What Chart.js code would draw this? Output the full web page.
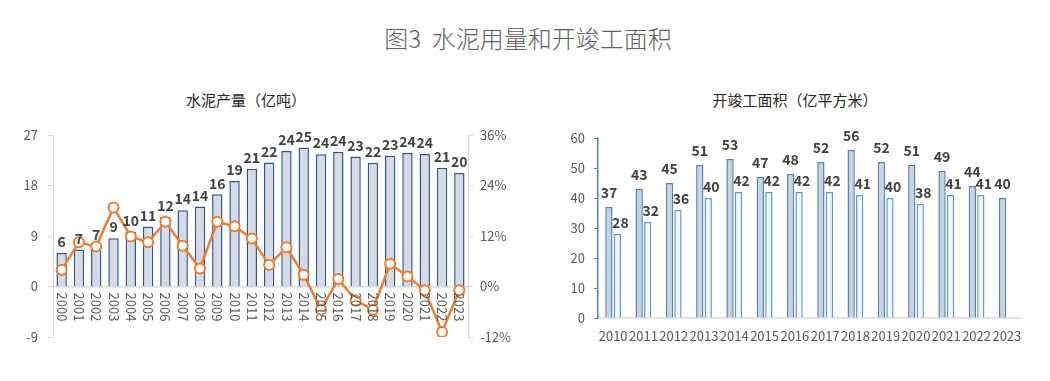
<!DOCTYPE html>
<html>
<head>
<meta charset="utf-8">
<script src="https://cdn.jsdelivr.net/npm/chart.js@4.4.0/dist/chart.umd.min.js"></script>
<style>
  body { margin:0; width:1050px; height:381px; background:#fff; position:relative; overflow:hidden; font-family:"Noto Sans CJK SC","Noto Sans",sans-serif; }
  .t { position:absolute; text-align:center; white-space:nowrap; }
  .box { position:absolute; }
</style>
</head>
<body>
<div class="t" style="top:21px;left:0;width:1056px;font-size:24px;line-height:34px;font-weight:300;color:#606060;">图3&nbsp; 水泥用量和开竣工面积</div>
<div class="t" style="top:89px;left:46px;width:400px;font-size:15px;color:#262626;">水泥产量（亿吨）</div>
<div class="t" style="top:89px;left:595px;width:400px;font-size:15px;color:#262626;">开竣工面积（亿平方米）</div>
<div class="box" style="left:0;top:80px;width:525px;height:290px;"><canvas id="c1" width="525" height="290"></canvas></div>
<div class="box" style="left:525px;top:80px;width:525px;height:290px;"><canvas id="c2" width="525" height="290"></canvas></div>
<script>
// ---- data ----
const cementYears = ['2000','2001','2002','2003','2004','2005','2006','2007','2008','2009','2010','2011','2012','2013','2014','2015','2016','2017','2018','2019','2020','2021','2022','2023'];
const cementOutput = [5.97,6.61,7.25,8.62,9.70,10.69,12.37,13.61,14.24,16.44,18.82,20.99,22.10,24.14,24.76,23.59,24.03,23.16,22.07,23.30,23.77,23.63,21.18,20.23];
const cementGrowth = [4.0,10.5,9.5,18.8,11.9,10.5,15.4,9.7,4.3,15.4,14.3,11.4,5.1,9.3,2.8,-5.5,1.8,-3.3,-5.5,5.4,2.4,-0.9,-10.8,-0.9];
const leftTicks = [-9,0,9,18,27];
const rightTicks = [-12,0,12,24,36];

const areaYears = ['2010','2011','2012','2013','2014','2015','2016','2017','2018','2019','2020','2021','2022','2023'];
const startArea = [37,43,45,51,53,47,48,52,56,52,51,49,44,40];
const completeArea = [28,32,36,40,42,42,42,42,41,40,38,41,41,null];
const areaTicks = [0,10,20,30,40,50,60];

const FONT = '"Noto Sans CJK SC","Noto Sans",sans-serif';
const TICK_COLOR = '#595959';
Chart.defaults.font.family = FONT;
Chart.defaults.animation = false;

// value labels above bars
const barLabels = {
  id: 'barLabels',
  afterDatasetsDraw(chart, args, opts) {
    const ctx = chart.ctx;
    ctx.save();
    ctx.font = 'bold 14px ' + FONT;
    ctx.fillStyle = '#404040';
    ctx.textAlign = 'center';
    ctx.textBaseline = 'bottom';
    chart.data.datasets.forEach((ds, di) => {
      if (ds.type === 'line') return;
      const meta = chart.getDatasetMeta(di);
      meta.data.forEach((el, i) => {
        const v = ds.data[i];
        if (v === null || v === undefined) return;
        const gap = opts.gaps ? opts.gaps[di] : 4;
        ctx.fillText(String(Math.round(v)), el.x + (opts.dx ? opts.dx[di] : 0), el.y - gap);
      });
    });
    ctx.restore();
  }
};

// rotated category labels (reading top-to-bottom) just under the zero line
const rotatedLabels = {
  id: 'rotatedLabels',
  afterDraw(chart) {
    const ctx = chart.ctx;
    const xs = chart.scales.x;
    const y0 = chart.scales.y.getPixelForValue(0) + 6;
    ctx.save();
    ctx.font = '13px ' + FONT;
    ctx.fillStyle = TICK_COLOR;
    ctx.textAlign = 'left';
    ctx.textBaseline = 'middle';
    chart.data.labels.forEach((lab, i) => {
      const x = xs.getPixelForValue(i);
      ctx.save();
      ctx.translate(x, y0);
      ctx.rotate(Math.PI / 2);
      ctx.fillText(lab, 0, 0);
      ctx.restore();
    });
    ctx.restore();
  }
};

new Chart(document.getElementById('c1'), {
  type: 'bar',
  data: {
    labels: cementYears,
    datasets: [
      {
        type: 'line', label: '增速', data: cementGrowth, yAxisID: 'y1', order: 0,
        borderColor: '#ed7d31', borderWidth: 2.5, tension: 0,
        pointRadius: 5, pointBorderWidth: 2, pointBackgroundColor: '#ffffff', pointBorderColor: '#ed7d31'
      },
      {
        type: 'bar', label: '水泥产量', data: cementOutput, yAxisID: 'y', order: 1,
        backgroundColor: '#d6dbe3', borderColor: '#2f5597', borderWidth: 1.5,
        categoryPercentage: 1, barPercentage: 0.6
      }
    ]
  },
  options: {
    responsive: false,
    devicePixelRatio: 1,
    layout: { padding: { left: 0, right: 0, top: 55, bottom: 33 } },
    plugins: { legend: { display: false }, tooltip: { enabled: false }, title: { display: false }, barLabels: { gaps: [4, 4] } },
    scales: {
      x: {
        position: { y: 0 },
        grid: { display: false },
        border: { display: true, color: '#d9d9d9', width: 1.5 },
        ticks: { display: false }
      },
      y: {
        position: 'left', min: -9, max: 27,
        afterBuildTicks: s => { s.ticks = leftTicks.map(v => ({ value: v })); },
        afterFit: s => { s.width = 53; },
        grid: { drawOnChartArea: false, drawTicks: true, tickLength: 5, color: '#d9d9d9' },
        border: { display: true, color: '#d9d9d9', width: 1 },
        ticks: { color: TICK_COLOR, font: { size: 13 }, padding: 10 }
      },
      y1: {
        position: 'right', min: -12, max: 36,
        afterBuildTicks: s => { s.ticks = rightTicks.map(v => ({ value: v })); },
        afterFit: s => { s.width = 57; },
        grid: { drawOnChartArea: false, drawTicks: true, tickLength: 5, color: '#d9d9d9' },
        border: { display: true, color: '#d9d9d9', width: 1 },
        ticks: { color: TICK_COLOR, font: { size: 13 }, padding: 7, callback: v => v + '%' }
      }
    }
  },
  plugins: [barLabels, rotatedLabels]
});

new Chart(document.getElementById('c2'), {
  type: 'bar',
  data: {
    labels: areaYears,
    datasets: [
      {
        label: '开工面积', data: startArea,
        backgroundColor: '#c9d3de', borderColor: '#4f81bd', borderWidth: 1.5,
        categoryPercentage: 0.56, barPercentage: 0.86
      },
      {
        label: '竣工面积', data: completeArea,
        backgroundColor: '#f3f8fc', borderColor: '#5b9bd5', borderWidth: 1.5,
        categoryPercentage: 0.56, barPercentage: 0.86
      }
    ]
  },
  options: {
    responsive: false,
    devicePixelRatio: 1,
    layout: { padding: { left: 0, right: 28, top: 58, bottom: 0 } },
    plugins: { legend: { display: false }, tooltip: { enabled: false }, title: { display: false }, barLabels: { gaps: [7, 4], dx: [0, 3] } },
    scales: {
      x: {
        grid: { display: false },
        border: { display: true, color: '#d9d9d9', width: 1.5 },
        afterFit: s => { s.height = 52; },
        ticks: { color: TICK_COLOR, font: { size: 13 }, padding: 2, maxRotation: 0, minRotation: 0, autoSkip: false }
      },
      y: {
        min: 0, max: 60,
        afterBuildTicks: s => { s.ticks = areaTicks.map(v => ({ value: v })); },
        afterFit: s => { s.width = 73; },
        grid: { drawOnChartArea: false, drawTicks: true, tickLength: 4, color: '#4f81bd' },
        border: { display: true, color: '#4f81bd', width: 1.5 },
        ticks: { color: TICK_COLOR, font: { size: 13 }, padding: 9 }
      }
    }
  },
  plugins: [barLabels]
});
</script>
</body>
</html>
